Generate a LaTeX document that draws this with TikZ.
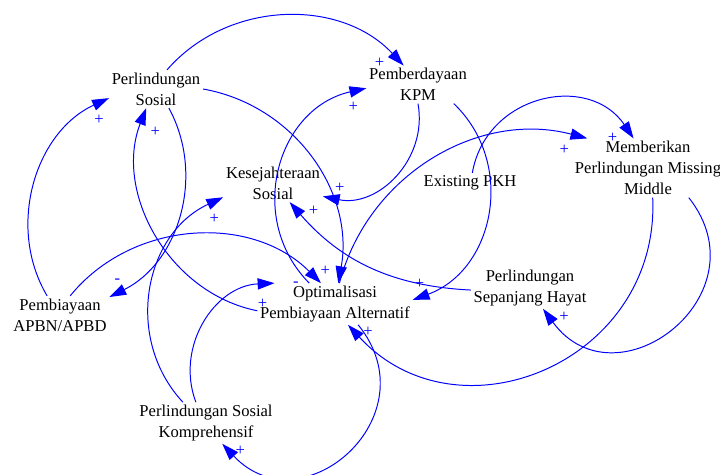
\documentclass[tikz,border=0pt]{standalone}
\usepackage{fontspec}
\setmainfont{Liberation Serif}
\usepackage{tikz}
\usetikzlibrary{arrows.meta}

\begin{document}
\begin{tikzpicture}[align=center,
    every node/.style={inner sep=2pt,outer sep=0pt,font=\fontsize{11.8}{14.9}\selectfont},
    sign/.style={text=blue,inner sep=0pt},
    link/.style={blue,line width=0.7pt,-{Triangle[length=12pt,width=8pt]}}]
    \useasboundingbox (0,0) rectangle (18,11.875);
    \node (PS) at (3.90,9.65) {Perlindungan\\Sosial};
    \node (PKPM) at (10.45,9.76) {Pemberdayaan\\KPM};
    \node (KS) at (6.825,7.30) {Kesejahteraan\\Sosial};
    \node (EPKH) at (11.75,7.30) {Existing PKH};
    \node (MPMM) at (16.20,7.675) {Memberikan\\Perlindungan Missing\\Middle};
    \node (PAPBN) at (1.50,4.00) {Pembiayaan\\APBN/APBD};
    \node (OPA) at (8.375,4.275) {Optimalisasi\\Pembiayaan Alternatif};
    \node (PSH) at (13.25,4.675) {Perlindungan\\Sepanjang Hayat};
    \node (PSK) at (5.15,1.30) {Perlindungan Sosial\\Komprehensif};
    \path[link]
        (PS.60) edge[bend left=48] node[sign,pos=1,xshift=-0.6cm,yshift=0.075cm] {+} (PKPM.127)
        (PAPBN.124) edge[bend left=48] node[sign,pos=1,xshift=-0.25cm,yshift=-0.55cm] {+} (PS.191)
        (OPA.185) edge[bend left=50] node[sign,pos=1,xshift=0.225cm,yshift=-0.6cm] {+} (PS.243)
        (PS.-56) edge[bend left=46] node[sign,pos=1,xshift=0.2cm,yshift=0.4cm] {-} (PAPBN.20)
        (PAPBN.62) edge[bend left=48] node[sign,pos=1,xshift=-0.625cm,yshift=-0.025cm] {-} (OPA.124)
        (PS.0) edge[bend left=45] node[sign,pos=1,xshift=-0.325cm,yshift=0.3cm] {+} (OPA.81)
        (OPA.141) edge[bend left=61,looseness=1.15] node[sign,pos=1,xshift=-0.325cm,yshift=-0.475cm] {+} (PKPM.184)
        (PKPM.270) edge[bend left=56,looseness=1.09] node[sign,pos=1,xshift=0.425cm,yshift=0.225cm] {+} (KS.-15)
        (PKPM.-28) edge[bend left=58,looseness=1.11] node[sign,pos=1,xshift=0.175cm,yshift=0.4cm] {+} (OPA.3)
        (PSK.138) edge[bend left=54,looseness=1.07] node[sign,pos=1,xshift=-0.225cm,yshift=-0.55cm] {+} (KS.196)
        (PSK.116) edge[bend left=54,looseness=1.07] node[sign,pos=1,xshift=-0.3cm,yshift=-0.525cm] {+} (OPA.161)
        (PSH.182) edge[bend left=23] node[sign,pos=1,xshift=0.6cm,yshift=-0.225cm] {+} (KS.-49)
        (EPKH.77) edge[bend left=68,looseness=1.24] node[sign,pos=1,xshift=-0.525cm,yshift=0.025cm] {+} (MPMM.116)
        (OPA.78) edge[bend left=45] node[sign,pos=1,xshift=-0.575cm,yshift=-0.275cm] {+} (MPMM.154)
        (MPMM.-81) edge[bend left=70,looseness=1.27] node[sign,pos=1,xshift=0.5cm,yshift=-0.175cm] {+} (OPA.-58)
        (MPMM.-36) edge[bend left=91,looseness=1.73] node[sign,pos=1,xshift=0.525cm,yshift=-0.2cm] {+} (PSH.-58)
        (OPA.-42) edge[bend left=88,looseness=1.66] node[sign,pos=1,xshift=0.45cm,yshift=-0.175cm] {+} (PSK.-52);
\end{tikzpicture}
\end{document}
